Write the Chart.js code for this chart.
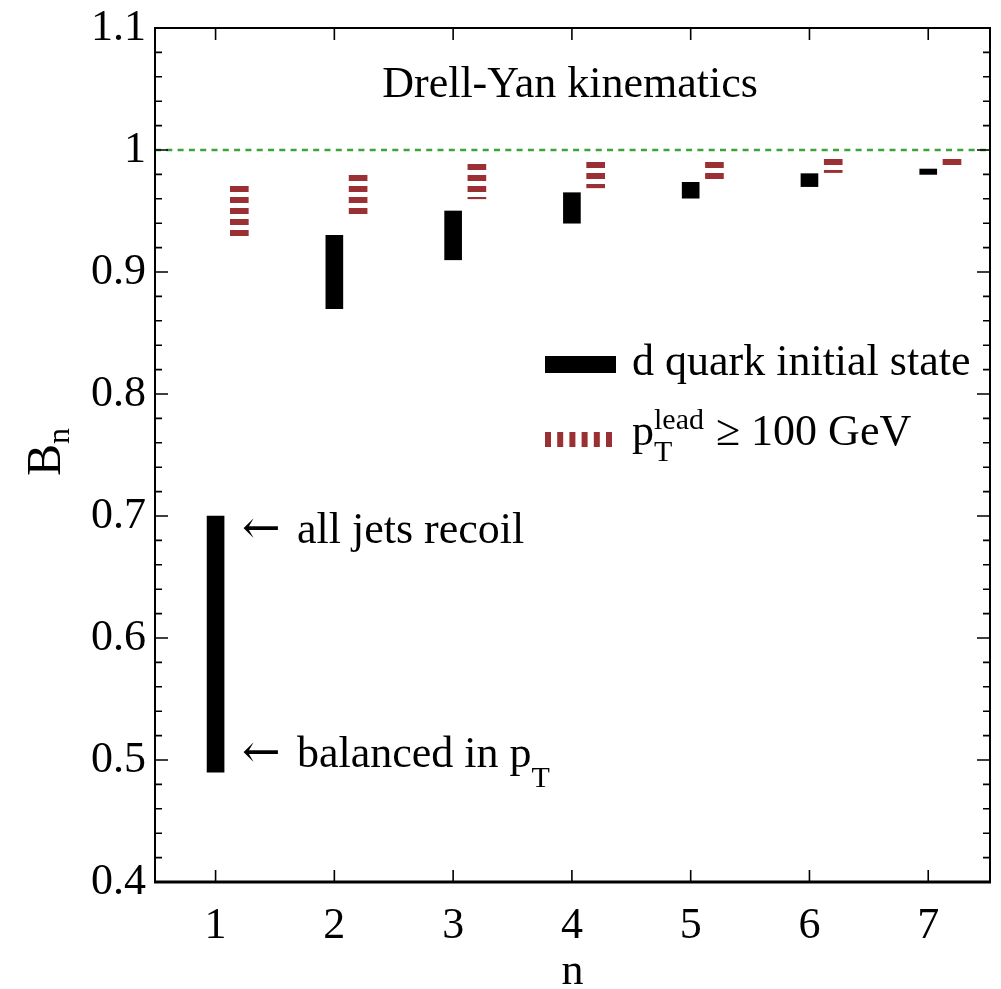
<!DOCTYPE html>
<html>
<head>
<meta charset="utf-8">
<script src="https://cdn.jsdelivr.net/npm/chart.js@4.4.1/dist/chart.umd.min.js"></script>
<style>
  html, body { margin: 0; padding: 0; background: #fff; }
  #wrap { width: 1001px; height: 989px; }
</style>
</head>
<body>
<div id="wrap"><canvas id="chart" width="1001" height="989"></canvas></div>
<script>
// values
const nValues = [1, 2, 3, 4, 5, 6, 7];
const dQuarkLow = [0.49, 0.87, 0.91, 0.94, 0.9605, 0.970, 0.980];
const dQuarkHigh = [0.70, 0.93, 0.95, 0.965, 0.9735, 0.9806, 0.9844];
const ptLeadLow = [0.929, 0.9475, 0.960, 0.969, 0.976, 0.9815, 0.9864];
const ptLeadHigh = [0.9705, 0.9795, 0.9885, 0.990, 0.990, 0.9924, 0.993];
const ptLeadShift = 0.2;

const xTicks = [1, 2, 3, 4, 5, 6, 7];
const yMajorTicks = [0.4, 0.5, 0.6, 0.7, 0.8, 0.9, 1.0, 1.1];
const yMinorStep = 0.02;
const refLevel = 1.0;

const X_MIN = 0.49, X_MAX = 7.52;
const SERIF = '"Liberation Serif", "Times New Roman", "DejaVu Serif", serif';
const ARROW_FONT = '"DejaVu Serif", "DejaVu Sans", serif';
const RED = "#9b3034";
const GREEN = "#3aa33a";

const canvas = document.getElementById("chart");
const ctx = canvas.getContext("2d");

// horizontal red stripes, started at the top edge of each bar
const stripeTile = document.createElement("canvas");
stripeTile.width = 4;
stripeTile.height = 11;
(() => {
  const g = stripeTile.getContext("2d");
  g.fillStyle = RED;
  g.fillRect(0, 0, 4, 6);
})();

function stripedFill(context) {
  const pat = ctx.createPattern(stripeTile, "repeat");
  const yScale = context.chart.scales && context.chart.scales.y;
  const i = context.dataIndex;
  if (yScale && i !== undefined && ptLeadHigh[i] !== undefined) {
    const top = Math.round(yScale.getPixelForValue(ptLeadHigh[i]));
    pat.setTransform(new DOMMatrix().translate(0, top));
  }
  return pat;
}

// text with a sub/superscript run
function drawRich(c, parts, x, y) {
  let cx = x;
  parts.forEach((p) => {
    c.font = `${p.size}px ${p.family || SERIF}`;
    c.fillText(p.text, cx, y + (p.dy || 0));
    if (!p.stack) cx += c.measureText(p.text).width + (p.gap || 0);
  });
  return cx;
}

const framePlugin = {
  id: "frame",
  afterDraw(chart) {
    const { ctx: c, chartArea: a, scales } = chart;
    const x = scales.x, y = scales.y;
    c.save();
    c.strokeStyle = "#000";
    c.fillStyle = "#000";

    // spines
    c.lineWidth = 2;
    c.beginPath();
    c.moveTo(a.left, a.bottom);
    c.lineTo(a.left, a.top);
    c.lineTo(a.right, a.top);
    c.lineTo(a.right, a.bottom);
    c.stroke();
    c.lineWidth = 3;
    c.beginPath();
    c.moveTo(a.left - 1, a.bottom);
    c.lineTo(a.right + 1, a.bottom);
    c.stroke();

    // inward ticks
    c.lineWidth = 1.6;
    const nMinor = Math.round((y.max - y.min) / yMinorStep);
    for (let i = 0; i <= nMinor; i++) {
      const v = y.min + i * yMinorStep;
      const major = yMajorTicks.some((t) => Math.abs(t - v) < 1e-6);
      const len = major ? 13 : 7;
      const py = y.getPixelForValue(v);
      c.beginPath();
      c.moveTo(a.left, py); c.lineTo(a.left + len, py);
      c.moveTo(a.right, py); c.lineTo(a.right - len, py);
      c.stroke();
    }
    xTicks.forEach((t) => {
      const px = x.getPixelForValue(t);
      c.beginPath();
      c.moveTo(px, a.bottom); c.lineTo(px, a.bottom - 12);
      c.moveTo(px, a.top); c.lineTo(px, a.top + 12);
      c.stroke();
    });

    c.textAlign = "left";
    c.textBaseline = "alphabetic";

    // title inside the plot
    c.font = `44px ${SERIF}`;
    c.textAlign = "center";
    c.fillText("Drell-Yan kinematics", 570, 97);
    c.textAlign = "left";

    // legend
    c.fillStyle = "#000";
    c.fillRect(545, 356, 71, 17);
    c.font = `44px ${SERIF}`;
    c.fillText("d quark initial state", 632, 375);
    c.fillStyle = RED;
    for (let i = 0; i < 6; i++) c.fillRect(545 + i * 12.2, 432, 6, 15);
    c.fillStyle = "#000";
    let px = drawRich(c, [{ text: "p", size: 44 }], 632, 445);
    drawRich(c, [{ text: "lead", size: 30, dy: -16, stack: true }], px, 445);
    const leadW = (c.font = `30px ${SERIF}`, c.measureText("lead").width);
    drawRich(c, [{ text: "T", size: 30, dy: 16 }], px, 445);
    drawRich(c, [{ text: "\u2265 100 GeV", size: 44 }], px + leadW + 12, 445);

    // annotations beside the n = 1 bar
    drawRich(c, [{ text: "\u2190", size: 46, family: ARROW_FONT }], 242, 543);
    drawRich(c, [{ text: "all jets recoil", size: 44 }], 297, 543);
    drawRich(c, [{ text: "\u2190", size: 46, family: ARROW_FONT }], 242, 767);
    px = drawRich(c, [{ text: "balanced in p", size: 44 }], 297, 767);
    drawRich(c, [{ text: "T", size: 30, dy: 20 }], px, 767);

    // axis titles
    c.font = `44px ${SERIF}`;
    c.textAlign = "center";
    c.fillText("n", (a.left + a.right) / 2, 984);
    c.textAlign = "left";
    c.translate(60, 476);
    c.rotate(-Math.PI / 2);
    const bEnd = drawRich(c, [{ text: "B", size: 48 }], 0, 0);
    drawRich(c, [{ text: "n", size: 32, dy: 9 }], bEnd, 0);
    c.restore();
  },
};

new Chart(ctx, {
  type: "bar",
  data: {
    datasets: [
      {
        label: "d quark initial state",
        data: nValues.map((n, i) => ({ x: n, y: [dQuarkLow[i], dQuarkHigh[i]] })),
        backgroundColor: "#000",
        barThickness: 17,
        grouped: false,
        borderWidth: 0,
      },
      {
        label: "pT lead >= 100 GeV",
        data: nValues.map((n, i) => ({ x: n + ptLeadShift, y: [ptLeadLow[i], ptLeadHigh[i]] })),
        backgroundColor: stripedFill,
        barThickness: 18,
        grouped: false,
        borderWidth: 0,
      },
      {
        type: "line",
        label: "unity",
        data: [{ x: X_MIN, y: refLevel }, { x: X_MAX, y: refLevel }],
        borderColor: GREEN,
        borderWidth: 2.5,
        borderDash: [6, 5.3],
        pointRadius: 0,
        fill: false,
      },
    ],
  },
  options: {
    responsive: false,
    animation: false,
    layout: { padding: { top: 28, right: 11, left: 0, bottom: 0 } },
    plugins: { legend: { display: false }, tooltip: { enabled: false } },
    scales: {
      x: {
        type: "linear",
        min: X_MIN,
        max: X_MAX,
        offset: false,
        grid: { display: false, drawTicks: false },
        border: { display: false },
        ticks: {
          stepSize: 1,
          includeBounds: false,
          padding: 18,
          color: "#000",
          font: { family: SERIF, size: 44 },
          maxRotation: 0,
          callback: (v) => (Number.isInteger(v) ? String(v) : ""),
        },
        afterFit: (s) => { s.height = 107; s.paddingLeft = 0; s.paddingRight = 0; },
      },
      y: {
        min: 0.4,
        max: 1.1,
        grid: { display: false, drawTicks: false },
        border: { display: false },
        ticks: {
          stepSize: 0.1,
          includeBounds: false,
          padding: 9,
          color: "#000",
          font: { family: SERIF, size: 44 },
          callback: (v) => String(Math.round(v * 10) / 10),
        },
        afterFit: (s) => { s.width = 155; s.paddingTop = 0; s.paddingBottom = 0; },
      },
    },
  },
  plugins: [framePlugin],
});
</script>
</body>
</html>
